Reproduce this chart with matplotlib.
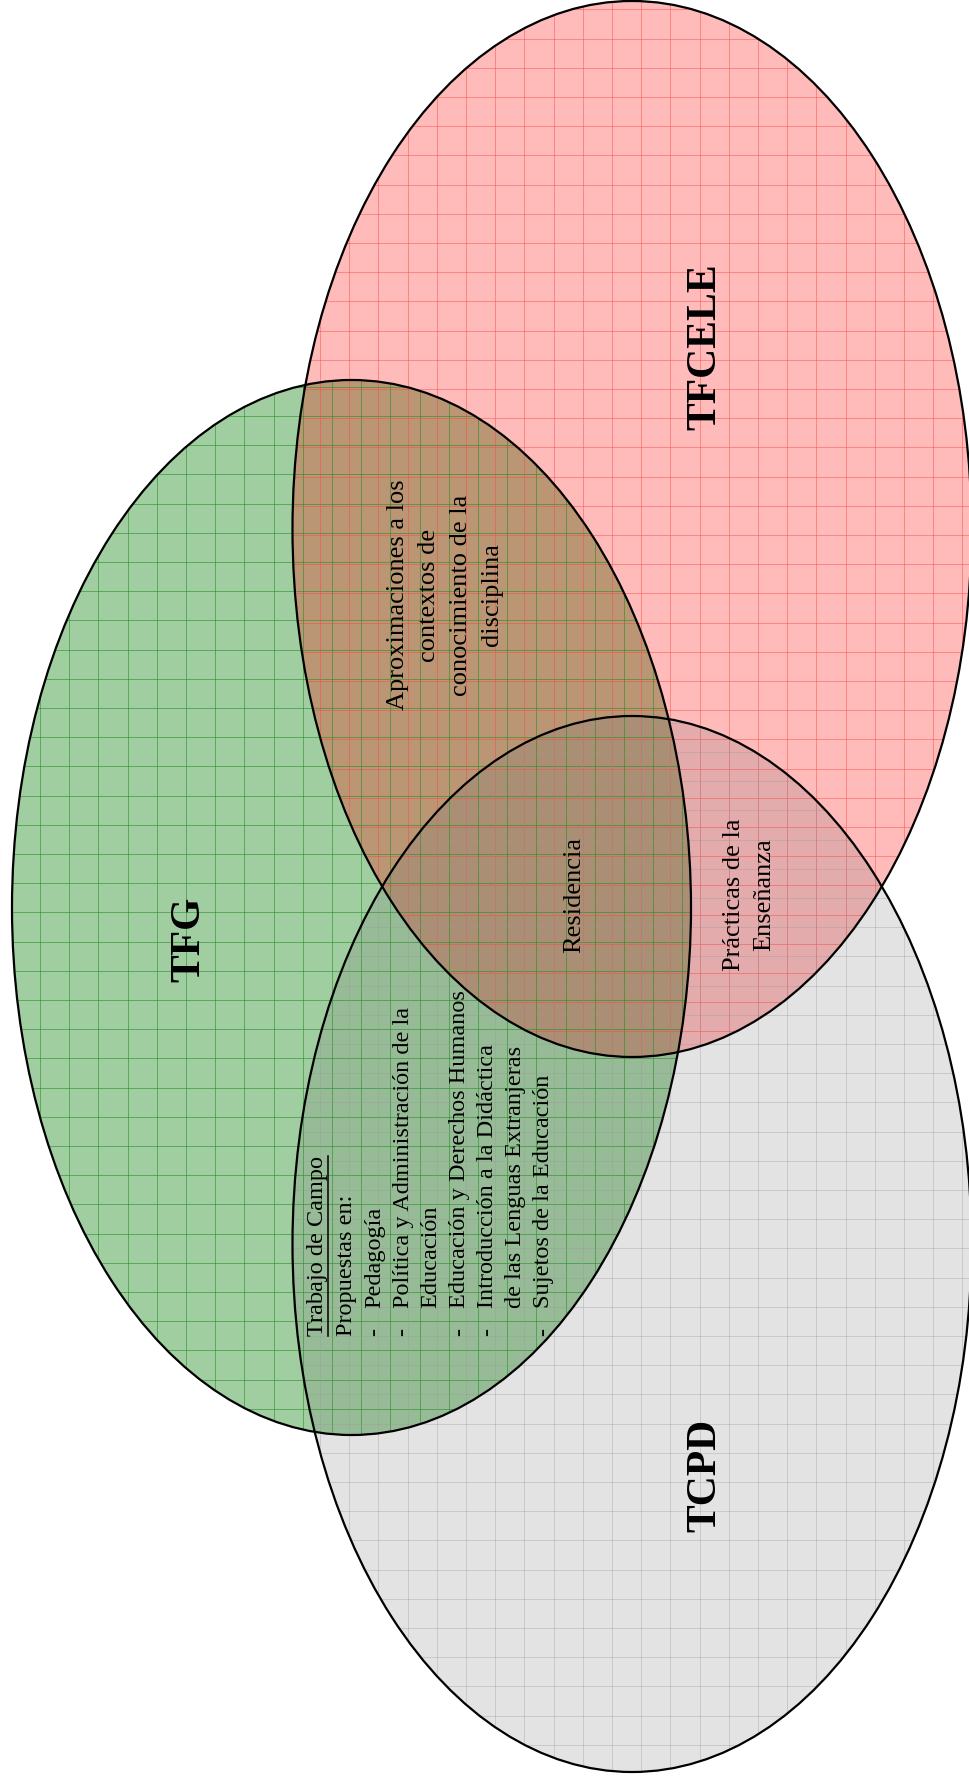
import numpy as np
import matplotlib
matplotlib.use("Agg")
import matplotlib.pyplot as plt
from matplotlib.patches import Ellipse
from matplotlib.collections import LineCollection

plt.rcParams['font.family'] = ['Liberation Serif', 'DejaVu Serif']

# set names and the texts that sit in each region
set_names = ["TFG", "TFCELE", "TCPD"]
aprox_lines = ["Aproximaciones a los", "contextos de", "conocimiento de la", "disciplina"]
residencia_text = "Residencia"
practicas_lines = ["Prácticas de la", "Enseñanza"]
campo_title = "Trabajo de Campo"
campo_intro = "Propuestas en:"
campo_items = [
    ("-", "Pedagogía"),
    ("-", "Política y Administración de la"),
    ("", "Educación"),
    ("-", "Educación y Derechos Humanos"),
    ("-", "Introducción a la Didáctica"),
    ("", "de las Lenguas Extranjeras"),
    ("-", "Sujetos de la Educación"),
]

# layout (pixel coordinates, y grows downwards)
W, H = 969, 1785
ellipses = {
    # name: (cx, cy, rx, ry, fill rgba, grid colour, grid x0, grid y0)
    "TFG": (351.5, 907.5, 339.5, 527.5, (0.0, 0.48, 0.0, 0.37), (0.12, 0.55, 0.12, 0.55), 40, 708),
    "TFCELE": (632, 529, 339.5, 528, (1.0, 0.0, 0.0, 0.27), (1.0, 0.25, 0.25, 0.45), 612, 243),
    "TCPD": (632, 1244, 339.5, 528, (0.45, 0.45, 0.45, 0.20), (0.6, 0.6, 0.6, 0.35), 612, 1628),
}
step = 29.2

fig = plt.figure(figsize=(W / 100, H / 100), dpi=100)
ax = fig.add_axes([0, 0, 1, 1])
ax.set_xlim(0, W)
ax.set_ylim(H, 0)
ax.axis('off')

for name in set_names:
    cx, cy, rx, ry, fill, gcol, gx0, gy0 = ellipses[name]
    patch = Ellipse((cx, cy), 2 * rx, 2 * ry, facecolor=fill, edgecolor='none', zorder=1)
    ax.add_patch(patch)
    xs = gx0 + step * np.arange(-40, 40)
    xs = xs[(xs > cx - rx) & (xs < cx + rx)]
    ys = gy0 + step * np.arange(-70, 70)
    ys = ys[(ys > cy - ry) & (ys < cy + ry)]
    segs = [[(x, cy - ry), (x, cy + ry)] for x in xs] + [[(cx - rx, y), (cx + rx, y)] for y in ys]
    lc = LineCollection(segs, colors=[gcol], linewidths=0.7, zorder=1.5)
    ax.add_collection(lc)
    lc.set_clip_path(patch)

for name in set_names:
    cx, cy, rx, ry = ellipses[name][:4]
    ax.add_patch(Ellipse((cx, cy), 2 * rx, 2 * ry, facecolor='none', edgecolor='black', lw=1.6, zorder=3))

# titles
title_pos = {"TFG": (189, 939), "TFCELE": (705, 347), "TCPD": (705, 1475)}
for name in set_names:
    x, y = title_pos[name]
    ax.text(x, y, name, rotation=90, ha='center', va='center', fontsize=30,
            fontweight='bold', zorder=5)

# body texts
fs_mid = 19
for i, line in enumerate(aprox_lines):
    ax.text(398 + 31.3 * i, 595, line, rotation=90, ha='center', va='center', fontsize=fs_mid, zorder=5)

ax.text(574, 895, residencia_text, rotation=90, ha='center', va='center', fontsize=fs_mid, zorder=5)

for i, line in enumerate(practicas_lines):
    ax.text(734 + 30 * i, 895, line, rotation=90, ha='center', va='center', fontsize=fs_mid, zorder=5)

fs_list = 17.5
y0, y_ind = 1336, 1308
t = ax.text(318, y0, campo_title, rotation=90, rotation_mode='anchor', ha='left', va='center',
            fontsize=fs_list, zorder=5)
ax.text(347, y0, campo_intro, rotation=90, rotation_mode='anchor', ha='left', va='center',
        fontsize=fs_list, zorder=5)
for i, (dash, item) in enumerate(campo_items):
    x = 375 + 28.1 * i
    if dash:
        ax.text(x, y0, dash, rotation=90, rotation_mode='anchor', ha='left', va='center',
                fontsize=fs_list, zorder=5)
    ax.text(x, y_ind, item, rotation=90, rotation_mode='anchor', ha='left', va='center',
            fontsize=fs_list, zorder=5)

# underline for the title of the field-work block
fig.canvas.draw()
bb = t.get_window_extent().transformed(ax.transData.inverted())
y_top = min(bb.y0, bb.y1)
ax.plot([328, 328], [y0, y_top], color='black', lw=1.1, zorder=5)

fig.savefig("out.png", dpi=100)
